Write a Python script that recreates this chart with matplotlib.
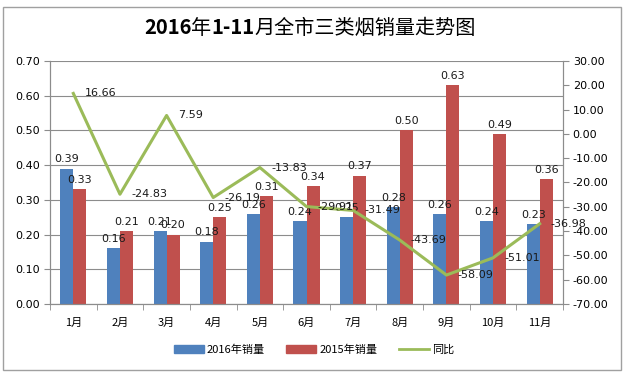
import matplotlib
matplotlib.use("Agg")
import matplotlib.pyplot as plt
import numpy as np
from matplotlib.patches import Rectangle, Patch
from matplotlib.lines import Line2D
from matplotlib.offsetbox import TextArea, HPacker, AnchoredOffsetbox

months = ["1月", "2月", "3月", "4月", "5月", "6月", "7月", "8月", "9月", "10月", "11月"]
sales_2016 = [0.39, 0.16, 0.21, 0.18, 0.26, 0.24, 0.25, 0.28, 0.26, 0.24, 0.23]
sales_2015 = [0.33, 0.21, 0.20, 0.25, 0.31, 0.34, 0.37, 0.50, 0.63, 0.49, 0.36]
yoy = [16.66, -24.83, 7.59, -26.19, -13.83, -29.91, -31.49, -43.69, -58.09, -51.01, -36.98]
title_parts = ["2016", "年", "1-11", "月全市三类烟销量走势图"]
legend_labels = ["2016年销量", "2015年销量", "同比"]

plt.rcParams['font.family'] = ['DejaVu Sans', 'Noto Sans CJK SC']
plt.rcParams['axes.unicode_minus'] = False

blue = "#4F81BD"
red = "#C0504D"
green = "#9BBB59"
grid_c = "#8C8C8C"

fig = plt.figure(figsize=(6.27, 3.75), dpi=100)
W, H = 627, 375
ax = fig.add_axes([50 / W, 1 - 304 / H, 513 / W, 243 / H])
ax2 = ax.twinx()

x = np.arange(len(months))
bw = 0.28
b1 = ax.bar(x - bw / 2, sales_2016, bw, color=blue, zorder=2)
b2 = ax.bar(x + bw / 2, sales_2015, bw, color=red, zorder=2)

ax.set_xlim(-0.5, len(months) - 0.5)
ax.set_ylim(0, 0.70)
lt = np.arange(0, 0.71, 0.1)
ax.set_yticks(lt)
ax.set_yticklabels([f"{v:.2f}" for v in lt], fontsize=8)
ax.grid(axis='y', color=grid_c, linewidth=0.8, zorder=0)
ax.set_axisbelow(True)
ax.set_xticks(x)
ax.set_xticklabels(months, fontsize=8, family=['Noto Sans CJK SC'])
ax.set_xticks(np.arange(-0.5, len(months), 1), minor=True)
ax.tick_params(axis='x', which='major', length=0, pad=10)
ax.tick_params(axis='x', which='minor', length=4, color=grid_c)
ax.tick_params(axis='y', length=4, color=grid_c, pad=3)

ax.spines['top'].set_visible(False)
ax2.spines['top'].set_visible(False)
for a in (ax, ax2):
    for s in ['left', 'right', 'bottom']:
        a.spines[s].set_color(grid_c)
        a.spines[s].set_linewidth(0.8)

for bars, vals in ((b1, sales_2016), (b2, sales_2015)):
    for rect, v in zip(bars, vals):
        ax.annotate(f"{v:.2f}", (rect.get_x() + rect.get_width() / 2, v),
                    xytext=(0, 3), textcoords='offset points',
                    ha='center', va='bottom', fontsize=8, color='#1a1a1a', zorder=5)

ax2.plot(x, yoy, color=green, linewidth=2.2, zorder=3)
ax2.set_ylim(-70, 30)
rt = np.arange(-70, 31, 10)
ax2.set_yticks(rt)
ax2.set_yticklabels([f"{v:.2f}" for v in rt], fontsize=8)
ax2.tick_params(axis='y', length=4, color=grid_c, pad=3)
for xi, v in zip(x, yoy):
    ax2.annotate(f"{v:.2f}", (xi, v), xytext=(8, 0), textcoords='offset points',
                 ha='left', va='center', fontsize=8, color='#1a1a1a', zorder=5)

# Title: digits bold, CJK regular
areas = []
for part in title_parts:
    bold = part[0].isdigit()
    areas.append(TextArea(part, textprops=dict(fontsize=14.5, color='black',
                                               fontweight='bold' if bold else 'normal',
                                               family=['Noto Sans CJK SC'])))
pack = HPacker(children=areas, pad=0, sep=0, align='baseline')
anch = AnchoredOffsetbox(loc='center', child=pack, frameon=False, pad=0, borderpad=0,
                         bbox_to_anchor=(310 / W, 1 - 28 / H), bbox_transform=fig.transFigure)
fig.add_artist(anch)

handles = [Patch(color=blue), Patch(color=red), Line2D([], [], color=green, linewidth=2)]
fig.legend(handles, legend_labels, loc='center', bbox_to_anchor=(314 / W, 1 - 350 / H),
           ncol=3, frameon=False, handlelength=2.7, handleheight=0.7,
           columnspacing=1.9, handletextpad=0.3, prop={'family': ['Noto Sans CJK SC'], 'size': 8})

fig.patches.append(Rectangle((3 / W, 1 - 370 / H), 618 / W, 363 / H, transform=fig.transFigure,
                             fill=False, edgecolor='#A0A0A0', linewidth=1.0))

fig.savefig("out.png", dpi=100)
